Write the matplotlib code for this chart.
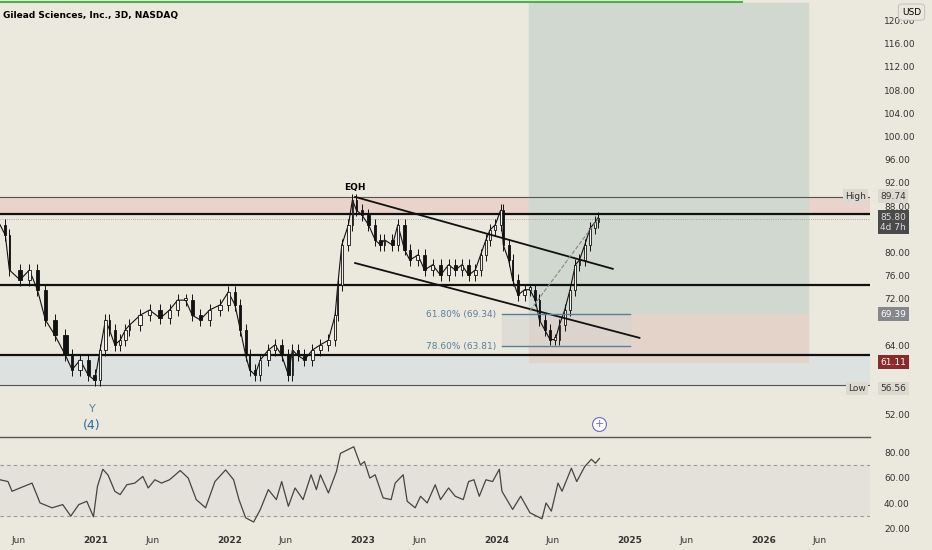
import matplotlib
matplotlib.use("Agg")
import matplotlib.pyplot as plt
import numpy as np
from matplotlib.patches import Rectangle

BG = "#ebe8dd"
# price anchors (decimal year, close)
dates = [2020.28,2020.32,2020.35,2020.43,2020.50,2020.56,2020.62,2020.69,2020.77,2020.82,2020.88,2020.94,2020.99,
         2021.03,2021.07,2021.10,2021.14,2021.18,2021.22,2021.25,2021.33,2021.40,2021.48,2021.55,2021.61,2021.67,2021.72,
         2021.78,2021.85,2021.93,2021.99,2022.04,2022.08,2022.12,2022.15,2022.19,2022.23,2022.29,2022.34,2022.39,2022.44,
         2022.47,2022.51,2022.56,2022.62,2022.68,2022.74,2022.79,2022.81,2022.84,2022.89,2022.92,2022.95,2022.99,
         2023.04,2023.09,2023.13,2023.16,2023.22,2023.26,2023.31,2023.35,2023.41,2023.46,2023.52,2023.58,2023.64,2023.69,
         2023.74,2023.79,2023.84,2023.88,2023.92,2023.95,2023.99,2024.03,2024.05,2024.09,2024.12,2024.16,2024.21,2024.25,
         2024.29,2024.32,2024.36,2024.40,2024.44,2024.47,2024.51,2024.55,2024.59,2024.62,2024.66,2024.70,2024.74,2024.76]
closes = [84.8,83.0,77.0,75.3,77.0,73.6,68.4,65.8,62.3,59.8,61.5,58.9,58.0,
          63.2,68.4,66.7,64.1,64.9,66.7,67.5,69.2,70.1,68.7,70.1,71.8,71.8,69.2,
          68.4,70.1,71.0,73.2,71.0,66.7,62.3,59.8,58.9,61.5,63.2,64.1,62.3,58.9,
          63.2,62.3,61.5,63.2,64.1,64.9,69.2,74.4,81.3,84.8,89.1,87.3,86.5,
          84.8,82.2,81.3,82.2,81.3,84.8,80.5,78.7,79.6,77.0,77.9,76.1,77.9,77.0,
          77.9,76.1,77.0,79.6,82.2,83.9,84.8,87.3,81.3,78.7,75.3,72.7,73.6,73.6,
          71.8,68.4,66.7,65.0,65.0,67.5,70.1,73.6,77.9,78.7,81.3,84.2,85.3,86.0]
rsi_dates = [2020.28,2020.34,2020.37,2020.43,2020.52,2020.58,2020.67,2020.75,2020.81,2020.87,2020.93,2020.98,2021.01,
             2021.05,2021.09,2021.14,2021.18,2021.23,2021.29,2021.35,2021.39,2021.44,2021.49,2021.55,2021.63,2021.69,
             2021.75,2021.82,2021.89,2021.97,2022.03,2022.07,2022.12,2022.18,2022.23,2022.29,2022.35,2022.39,2022.44,
             2022.49,2022.55,2022.61,2022.65,2022.68,2022.74,2022.80,2022.83,2022.93,2022.98,2023.01,2023.05,2023.09,
             2023.15,2023.21,2023.24,2023.30,2023.33,2023.39,2023.43,2023.48,2023.54,2023.58,2023.64,2023.69,2023.75,
             2023.79,2023.83,2023.87,2023.92,2023.97,2024.02,2024.04,2024.12,2024.18,2024.25,2024.34,2024.37,2024.41,
             2024.46,2024.49,2024.56,2024.60,2024.66,2024.71,2024.74,2024.77]
rsi = [58.4,57.0,49.4,52.0,55.8,40.3,36.5,39.0,30.0,39.0,41.6,29.5,53.2,66.6,62.0,49.4,46.8,54.5,55.8,61.0,52.0,
       58.4,55.8,58.4,65.6,59.7,42.9,36.5,57.0,66.1,58.4,42.9,28.7,25.4,35.2,50.7,42.9,57.0,37.7,52.0,42.9,62.3,
       50.7,62.3,48.1,64.8,79.0,84.2,70.0,72.6,59.7,62.3,44.2,42.9,55.8,62.3,41.6,36.5,45.5,40.3,54.5,42.9,52.0,
       45.5,42.9,57.0,58.4,45.5,58.4,57.0,66.6,49.4,35.2,45.5,32.6,27.9,40.3,33.9,55.8,49.4,67.4,57.0,68.7,74.4,71.3,75.0]

levels_thick = [86.65, 74.4, 62.3]
high_val, low_val = 89.74, 56.56
fib_vals = [69.34, 63.81]
fib_labels = ["61.80% (69.34)", "78.60% (63.81)"]
price_ticks = [52, 64, 72, 76, 80, 88, 92, 96, 100, 104, 108, 112, 116, 120]
x_ticks = [2020.42, 2021.0, 2021.42, 2022.0, 2022.42, 2023.0, 2023.42, 2024.0, 2024.42, 2025.0, 2025.42, 2026.0, 2026.42]
x_labels = ["Jun", "2021", "Jun", "2022", "Jun", "2023", "Jun", "2024", "Jun", "2025", "Jun", "2026", "Jun"]

X0, X1 = 2020.28, 2020.28 + 870/133.5
fig = plt.figure(figsize=(9.32, 5.5), dpi=100, facecolor=BG)
ax = fig.add_axes([0, 115/550, 870/932, 435/550], facecolor=BG)
ar = fig.add_axes([0, 18/550, 870/932, 95/550], facecolor=BG)
for a in (ax, ar):
    for s in a.spines.values():
        s.set_visible(False)
    a.set_xlim(X0, X1)
ax.set_ylim(48.55, 123.55)
ar.set_ylim(17.6, 91.8)

# zones
ax.axhspan(86.65, 89.6, color="#e9d3cb", zorder=0)
ax.axhspan(57.2, 62.3, color="#dde2e0", zorder=0)
ax.add_patch(Rectangle((2024.24, 69.39), 2.09, 123.0 - 69.39, color="#d1d8d0", zorder=0.5))
ax.add_patch(Rectangle((2024.24, 61.1), 2.09, 69.39 - 61.1, color="#e3d3c9", zorder=0.5))
ax.add_patch(Rectangle((2024.04, 63.81), 0.96, 69.34 - 63.81, color="#d6d6d0", alpha=0.6, zorder=0.6))
ax.plot([X0, X0 + 742/133.5], [123.2, 123.2], color="#4caf50", lw=1.5, zorder=5)

ax.axhline(high_val - 0.1, color="#555", lw=0.8, zorder=1)
ax.axhline(57.2, color="#555", lw=0.8, zorder=1)
for lv in levels_thick:
    ax.axhline(lv, color="#111", lw=1.6, zorder=3)
ax.axhline(85.8, color="#999", lw=0.6, ls=":", zorder=3)

# candles
d = np.array(dates); c = np.array(closes)
ax.plot(d, c, color="#111", lw=0.8, zorder=3.9)
for i in range(1, len(d)):
    o, cl = c[i-1], c[i]
    lo, hi = min(o, cl), max(o, cl)
    gap = d[i] - d[i-1]
    ax.vlines(d[i], lo - 1.0, hi + 1.0, color="#111", lw=0.7, zorder=4)
    ax.add_patch(Rectangle((d[i] - gap*0.2, lo), gap*0.4, max(hi - lo, 0.4),
                           facecolor="#111" if cl < o else "#f4f2ea", edgecolor="#111", lw=0.6, zorder=4))

# channel lines
ax.plot([2022.94, 2024.87], [89.6, 77.2], color="#111", lw=1.3, zorder=4)
ax.plot([2022.94, 2025.07], [78.2, 65.3], color="#111", lw=1.3, zorder=4)
ax.plot([2024.25, 2024.76], [70.0, 85.8], color="#888", lw=0.8, ls="--", zorder=4)
for v, lab in zip(fib_vals, fib_labels):
    ax.plot([2024.04, 2025.0], [v, v], color="#5d7f99", lw=1, zorder=4)
    ax.text(2024.0, v, lab, color="#5d7f99", fontsize=6.5, ha="right", va="center", zorder=5)
ax.text(2022.94, 90.4, "EQH", fontsize=6.5, fontweight="bold", ha="center", va="bottom", zorder=5)
ax.text(2020.97, 53.1, "Y", color="#5d7f99", fontsize=8, ha="center", va="center")
ax.text(2020.97, 50.2, "(4)", color="#2f6a9a", fontsize=9, ha="center", va="center")
ax.plot([2024.77], [50.5], marker="o", ms=10, mfc="white", mec="#6a6ad0", mew=0.8, clip_on=False, zorder=6)
ax.text(2024.77, 50.5, "+", color="#6a6ad0", fontsize=8, ha="center", va="center", zorder=7)
ax.text(0.004, 0.975, "Gilead Sciences, Inc., 3D, NASDAQ", transform=ax.transAxes, fontsize=6.5, fontweight="bold", va="top")

# right axis
ax.yaxis.tick_right()
ax.set_yticks(price_ticks)
ax.set_yticklabels([f"{t:.2f}" for t in price_ticks])
ax.tick_params(axis="y", length=0, labelsize=6.5, labelcolor="#333", pad=10)
ax.set_xticks([])
def tag(y, text, fc, tc="white", x=1.012):
    ax.text(x, y, text, transform=ax.get_yaxis_transform(), fontsize=6.5, color=tc, ha="left", va="center",
            bbox=dict(boxstyle="square,pad=0.25", fc=fc, ec="none"), zorder=10, clip_on=False)
tag(89.74, "89.74", "#dcd9d0", "#333")
ax.text(0.995, 89.74, "High", transform=ax.get_yaxis_transform(), fontsize=6.5, color="#333", ha="right", va="center",
        bbox=dict(boxstyle="square,pad=0.25", fc="#dcd9d0", ec="none"))
tag(85.2, "85.80\n4d 7h", "#4a4a4a", "#ddd")
tag(69.39, "69.39", "#85878a")
tag(61.11, "61.11", "#8b2a2a")
tag(56.56, "56.56", "#dcd9d0", "#333")
ax.text(0.995, 56.56, "Low", transform=ax.get_yaxis_transform(), fontsize=6.5, color="#333", ha="right", va="center",
        bbox=dict(boxstyle="square,pad=0.25", fc="#dcd9d0", ec="none"))
fig.text(0.978, 0.978, "USD", fontsize=6.5, ha="center", va="center",
         bbox=dict(boxstyle="round,pad=0.4", fc=BG, ec="#bbb", lw=0.6))

# RSI
ar.axhspan(30, 70, color="#e3e1da", zorder=0)
ar.axhline(70, color="#999", lw=0.8, ls=(0, (3, 3)))
ar.axhline(30, color="#999", lw=0.8, ls=(0, (3, 3)))
ar.plot(rsi_dates, rsi, color="#444", lw=0.9)
ar.yaxis.tick_right()
ar.set_yticks([20, 40, 60, 80])
ar.set_yticklabels(["20.00", "40.00", "60.00", "80.00"])
ar.tick_params(axis="y", length=0, labelsize=6.5, labelcolor="#333", pad=10)
ar.set_xticks(x_ticks)
ar.set_xticklabels(x_labels)
ar.tick_params(axis="x", length=0, labelsize=6.5, labelcolor="#333", pad=3)
for t in ar.get_xticklabels():
    if t.get_text() != "Jun":
        t.set_fontweight("bold")
fig.add_artist(plt.Line2D([0, 870/932], [113/550, 113/550], color="#555", lw=1))
fig.savefig("out.png", dpi=100, facecolor=BG)
